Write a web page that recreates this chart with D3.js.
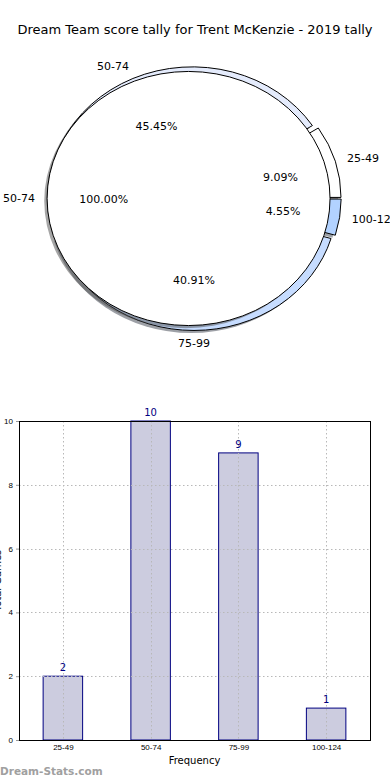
<!DOCTYPE html>
<html>
<head>
<meta charset="utf-8">
<script src="https://cdn.jsdelivr.net/npm/d3@7"></script>
<style>
  body { margin: 0; background: #fff; }
  svg { display: block; font-family: "DejaVu Sans", sans-serif; }
</style>
</head>
<body>
<svg id="chart" width="390" height="780"></svg>
<script>
// data
var titleText = "Dream Team score tally for Trent McKenzie - 2019 tally";
var outerCats = ["25-49", "50-74", "75-99", "100-124"];
var outerVals = [2, 10, 9, 1];
var outerColors = ["#ffffff", "#e4ebfc", "#c6dcff", "#b2d2ff"];
var innerCats = ["50-74"];
var innerVals = [22];
var barCats = ["25-49", "50-74", "75-99", "100-124"];
var barVals = [2, 10, 9, 1];
var yTicks = [0, 2, 4, 6, 8, 10];

var svg = d3.select("#chart");

svg.append("text")
    .attr("x", 195).attr("y", 34)
    .attr("text-anchor", "middle")
    .attr("font-size", 13)
    .text(titleText);

//
// pie part (elliptical, like an unequal-aspect matplotlib pie)
//
var cx = 194, cy = 198.5, rx = 142.9, ry = 128.3;
var explodeOuter = 0.03, explodeInner = 0.038, innerR = 0.99;

function toPx(u, v) { return [cx + rx * u, cy + ry * v]; }

var pie = d3.pie().sort(null)
    .startAngle(Math.PI / 2)
    .endAngle(Math.PI / 2 - 2 * Math.PI);

var total = d3.sum(outerVals);
var outerArcs = pie(outerVals);
var innerArcs = pie(innerVals);

var pieG = svg.append("g")
    .attr("transform", "translate(" + cx + "," + cy + ") scale(" + rx + "," + ry + ")");

function offsetOf(d, e) {
    var mid = (d.startAngle + d.endAngle) / 2;
    return [e * Math.sin(mid), -e * Math.cos(mid)];
}

function drawPie(arcs, radius, explode, colors) {
    var arc = d3.arc().innerRadius(0).outerRadius(radius);
    // shadows first
    pieG.selectAll(null).data(arcs).enter().append("path")
        .attr("d", arc)
        .attr("transform", function(d) {
            var o = offsetOf(d, explode);
            return "translate(" + (o[0] - 0.02) + "," + (o[1] + 0.02) + ")";
        })
        .attr("fill", function(d, i) {
            var c = d3.rgb(colors[i]);
            return d3.rgb(c.r * 0.3, c.g * 0.3, c.b * 0.3);
        })
        .attr("fill-opacity", 0.5);
    pieG.selectAll(null).data(arcs).enter().append("path")
        .attr("d", arc)
        .attr("transform", function(d) {
            var o = offsetOf(d, explode);
            return "translate(" + o[0] + "," + o[1] + ")";
        })
        .attr("fill", function(d, i) { return colors[i]; })
        .attr("stroke", "#000")
        .attr("stroke-width", 1)
        .attr("vector-effect", "non-scaling-stroke");
}

function drawLabels(arcs, cats, radius, explode, pcts) {
    arcs.forEach(function(d, i) {
        var mid = (d.startAngle + d.endAngle) / 2;
        var s = Math.sin(mid), c = -Math.cos(mid);
        var l = toPx(s * (explode + 1.1 * radius), c * (explode + 1.1 * radius));
        var anchor = s > 0.001 ? "start" : (s < -0.001 ? "end" : "middle");
        var nudge = anchor == "start" ? -2 : (anchor == "end" ? 2 : 0);
        svg.append("text")
            .attr("x", l[0] + nudge).attr("y", l[1])
            .attr("dy", "0.35em")
            .attr("font-size", 11)
            .attr("text-anchor", anchor)
            .text(cats[i]);
        var p = toPx(s * (explode + 0.6 * radius), c * (explode + 0.6 * radius));
        svg.append("text")
            .attr("x", p[0]).attr("y", p[1] + 1)
            .attr("dy", "0.35em")
            .attr("font-size", 11)
            .attr("text-anchor", "middle")
            .text(pcts[i]);
    });
}

drawPie(outerArcs, 1, explodeOuter, outerColors);
drawPie(innerArcs, innerR, explodeInner, ["#ffffff"]);

drawLabels(outerArcs, outerCats, 1, explodeOuter,
    outerVals.map(function(v) { return (100 * v / total).toFixed(2) + "%"; }));
drawLabels(innerArcs, innerCats, innerR, explodeInner,
    innerVals.map(function(v) { return (100 * v / d3.sum(innerVals)).toFixed(2) + "%"; }));

//
// bar part
//
var plotL = 19, plotR = 370, plotT = 421, plotB = 740;

var x = d3.scaleLinear().domain([-0.5, barCats.length - 0.5]).range([plotL, plotR]);
var y = d3.scaleLinear().domain([0, 10]).range([plotB, plotT]);
var barW = 0.45;

var barG = svg.append("g");

barG.selectAll(".bar").data(barVals).enter().append("rect")
    .attr("class", "bar")
    .attr("x", function(d, i) { return x(i - barW / 2); })
    .attr("width", function() { return x(barW) - x(0); })
    .attr("y", function(d) { return y(d); })
    .attr("height", function(d) { return plotB - y(d); })
    .attr("fill", "#ccccdf")
    .attr("stroke", "#000080")
    .attr("stroke-width", 1);

// dotted grid on top of the bars
barG.selectAll(".gy").data(yTicks).enter().append("line")
    .attr("x1", plotL).attr("x2", plotR)
    .attr("y1", function(d) { return Math.round(y(d)) + 0.5; })
    .attr("y2", function(d) { return Math.round(y(d)) + 0.5; })
    .attr("stroke", "#b8b8b8")
    .attr("stroke-dasharray", "1.5,2.5");
barG.selectAll(".gx").data(barCats).enter().append("line")
    .attr("x1", function(d, i) { return Math.round(x(i)) + 0.5; })
    .attr("x2", function(d, i) { return Math.round(x(i)) + 0.5; })
    .attr("y1", plotT).attr("y2", plotB)
    .attr("stroke", "#b8b8b8")
    .attr("stroke-dasharray", "1.5,2.5");

barG.selectAll(".val").data(barVals).enter().append("text")
    .attr("x", function(d, i) { return x(i); })
    .attr("y", function(d) { return y(d) - 5; })
    .attr("text-anchor", "middle")
    .attr("font-size", 10)
    .attr("fill", "#000080")
    .text(function(d) { return d; });

// axes
var yAxis = d3.axisLeft(y).tickValues(yTicks).tickSize(3).tickPadding(3);
var gy = svg.append("g").attr("transform", "translate(" + plotL + ",0)").call(yAxis);
gy.select(".domain").remove();
gy.selectAll("line").attr("stroke", "#999");
gy.selectAll("text").attr("font-size", 8).attr("fill", "#000");

var xAxis = d3.axisBottom(x).tickValues(d3.range(barCats.length))
    .tickFormat(function(i) { return barCats[i]; }).tickSize(0).tickPadding(4);
var gx = svg.append("g").attr("transform", "translate(0," + plotB + ")").call(xAxis);
gx.select(".domain").remove();
gx.selectAll("text").attr("font-size", 8).attr("fill", "#000");

svg.append("rect")
    .attr("x", plotL + 0.5).attr("y", plotT + 0.5)
    .attr("width", plotR - plotL).attr("height", plotB - plotT)
    .attr("fill", "none").attr("stroke", "#000").attr("stroke-width", 1);

svg.append("text")
    .attr("x", (plotL + plotR) / 2).attr("y", 764)
    .attr("text-anchor", "middle")
    .attr("font-size", 10)
    .text("Frequency");

svg.append("text")
    .attr("transform", "translate(0.5," + (plotT + plotB) / 2 + ") rotate(-90)")
    .attr("text-anchor", "middle")
    .attr("font-size", 10)
    .text("Total Games");

svg.append("text")
    .attr("x", 0).attr("y", 775)
    .attr("font-size", 10.5)
    .attr("font-weight", "bold")
    .attr("fill", "#a0a0a0")
    .text("Dream-Stats.com");
</script>
</body>
</html>
